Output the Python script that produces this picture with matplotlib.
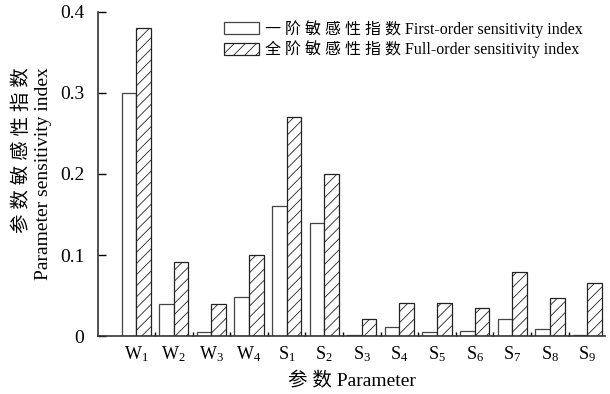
import matplotlib
matplotlib.use('Agg')
import matplotlib.pyplot as plt
import numpy as np
from matplotlib.ticker import FixedLocator

plt.rcParams['font.family'] = ['Liberation Serif', 'Noto Sans CJK SC']
plt.rcParams['mathtext.fontset'] = 'custom'
plt.rcParams['mathtext.rm'] = 'Liberation Serif'
plt.rcParams['mathtext.it'] = 'Liberation Serif'
plt.rcParams['hatch.linewidth'] = 0.6
plt.rcParams['hatch.color'] = '#555555'

# data
params = ['W$_1$', 'W$_2$', 'W$_3$', 'W$_4$', 'S$_1$', 'S$_2$', 'S$_3$',
          'S$_4$', 'S$_5$', 'S$_6$', 'S$_7$', 'S$_8$', 'S$_9$']
first_order = [0.30, 0.040, 0.0045, 0.048, 0.160, 0.140, 0.0015,
               0.0115, 0.0045, 0.006, 0.0205, 0.0085, 0.0015]
full_order = [0.38, 0.091, 0.040, 0.100, 0.270, 0.200, 0.0205,
              0.0405, 0.0405, 0.0345, 0.079, 0.047, 0.065]

fig = plt.figure(figsize=(6.10, 3.94), dpi=100)
ax = fig.add_axes([0.161, 0.147, 0.831, 0.823])

x = np.arange(len(params))
w = 0.39
ax.bar(x - w / 2, first_order, w, facecolor='white', edgecolor='#444444',
       linewidth=0.9, label='一 阶 敏 感 性 指 数 First-order sensitivity index')
ax.bar(x + w / 2, full_order, w, facecolor='white', edgecolor='#222222',
       linewidth=0.9, hatch='///',
       label='全 阶 敏 感 性 指 数 Full-order sensitivity index')

ax.set_xlim(-1.01, 12.47)
ax.set_ylim(0, 0.4)
ax.set_yticks([0, 0.1, 0.2, 0.3, 0.4])
ax.set_yticklabels(['0', '0.1', '0.2', '0.3', '0.4'])
ax.set_xticks(x)
ax.set_xticklabels(params)
ax.xaxis.set_minor_locator(FixedLocator(np.arange(0.5, 12, 1)))
ax.tick_params(axis='x', which='major', length=0, labelsize=13, pad=6)
ax.tick_params(axis='x', which='minor', direction='in', length=3, width=1)
ax.tick_params(axis='y', direction='in', length=6, width=1, labelsize=14, pad=10)

for s in ['top', 'right']:
    ax.spines[s].set_visible(False)
for s in ['left', 'bottom']:
    ax.spines[s].set_linewidth(1.2)
    ax.spines[s].set_color('#333333')

ax.set_xlabel('参 数 Parameter', fontsize=14, labelpad=6)
ax.set_ylabel('参 数 敏 感 性 指 数\nParameter sensitivity index', fontsize=14,
              linespacing=1.3, labelpad=6, multialignment='right')

ax.legend(loc='upper right', bbox_to_anchor=(0.985, 1.02), frameon=False,
          fontsize=11.5, handlelength=2.2, handleheight=0.8, handletextpad=0.4,
          labelspacing=0.2)

fig.savefig('out.png', dpi=100)
